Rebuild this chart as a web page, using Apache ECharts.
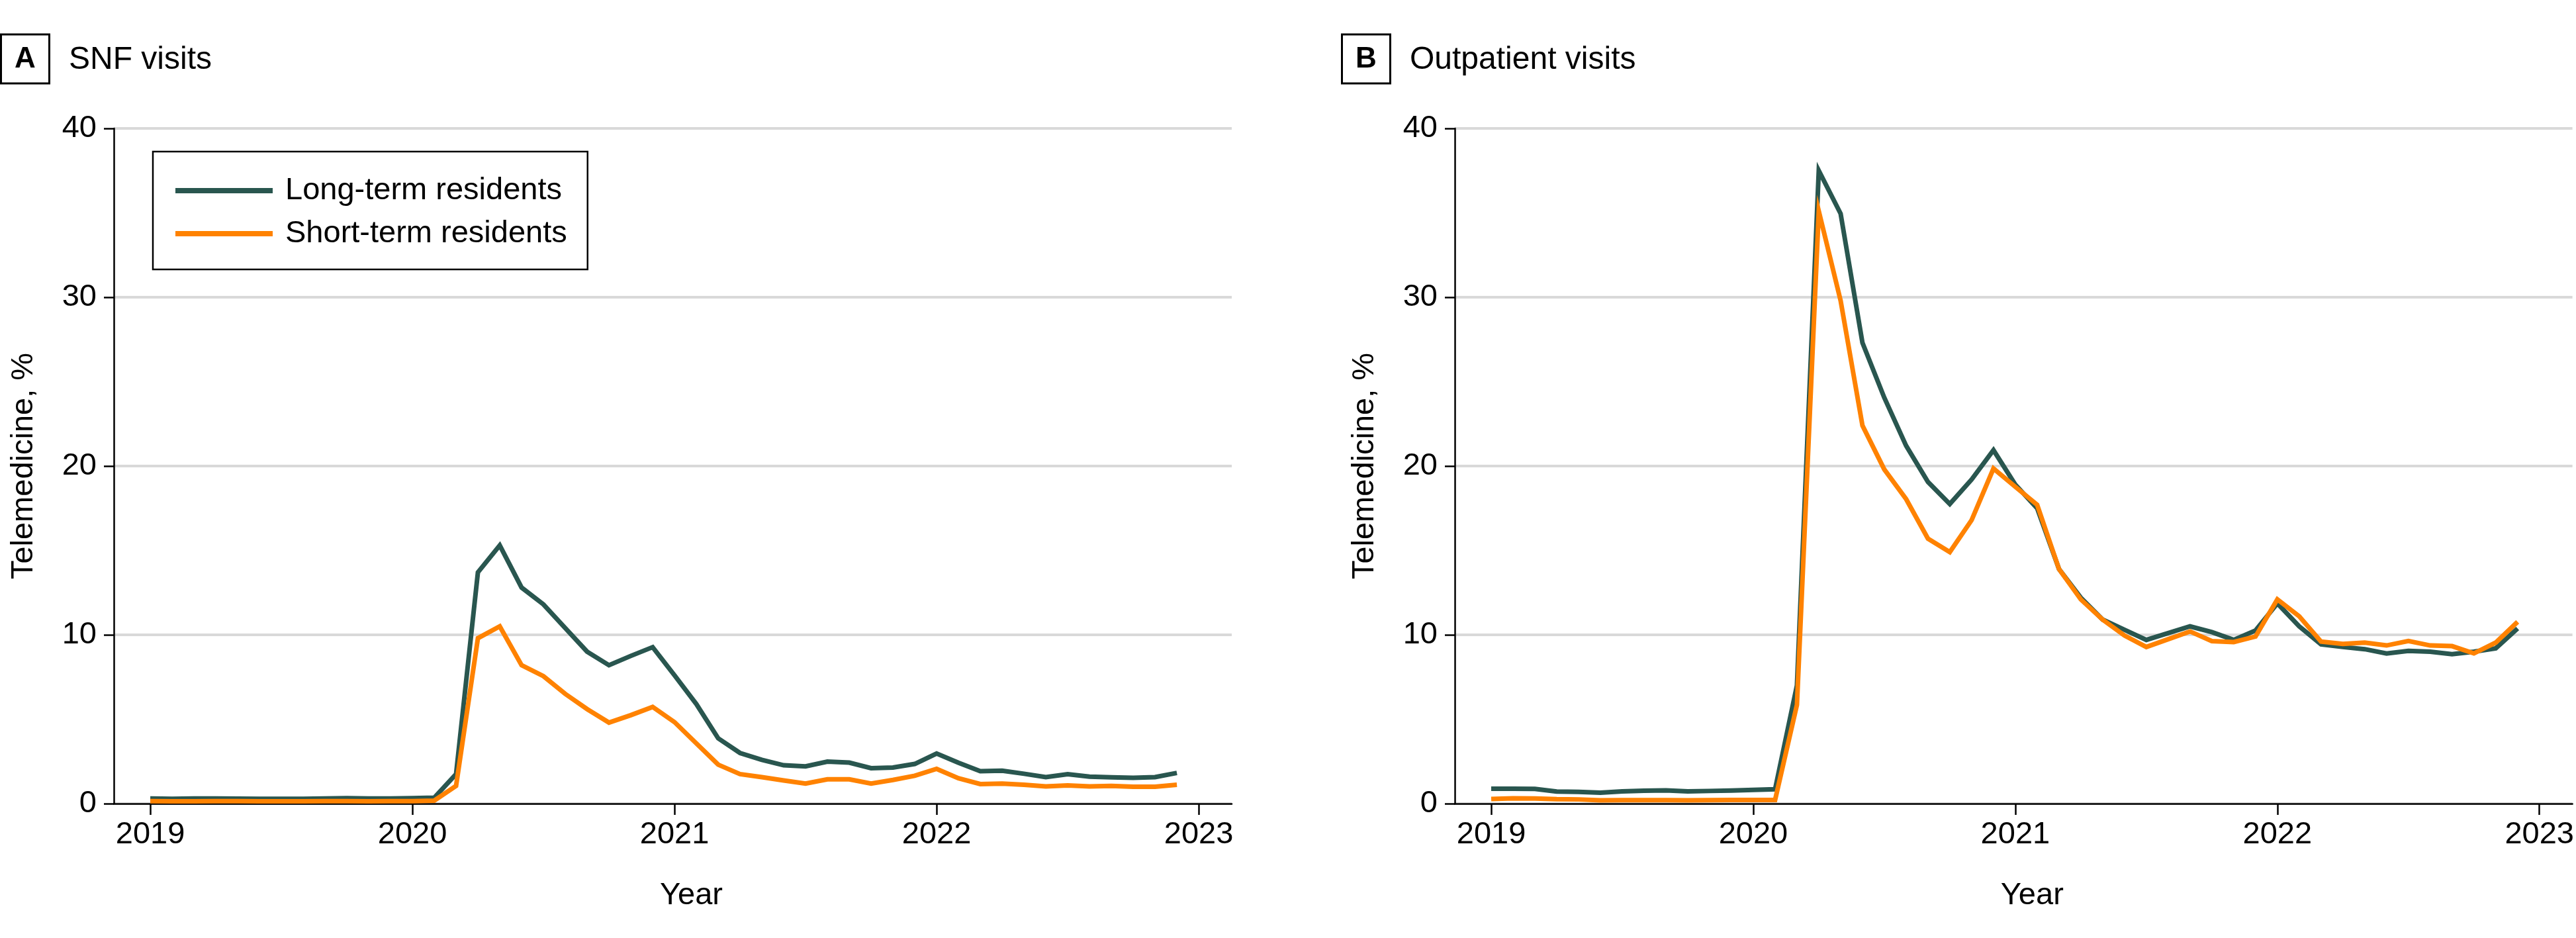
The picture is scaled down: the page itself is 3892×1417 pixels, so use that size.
<!DOCTYPE html>
<html>
<head>
<meta charset="utf-8">
<script src="https://cdn.jsdelivr.net/npm/echarts@6/dist/echarts.min.js"></script>
<style>
html,body{margin:0;padding:0;background:#fff;}
#c{width:3892px;height:1417px;}
</style>
</head>
<body>
<div id="c"></div>
<script>
// ---- data (monthly, Jan 2019 – Dec 2022) ----
const months = [
  '2019-01','2019-02','2019-03','2019-04','2019-05','2019-06','2019-07','2019-08','2019-09','2019-10','2019-11','2019-12',
  '2020-01','2020-02','2020-03','2020-04','2020-05','2020-06','2020-07','2020-08','2020-09','2020-10','2020-11','2020-12',
  '2021-01','2021-02','2021-03','2021-04','2021-05','2021-06','2021-07','2021-08','2021-09','2021-10','2021-11','2021-12',
  '2022-01','2022-02','2022-03','2022-04','2022-05','2022-06','2022-07','2022-08','2022-09','2022-10','2022-11','2022-12'
];
const yearTicks = [2019, 2020, 2021, 2022, 2023];
const yTicks = [0, 10, 20, 30, 40];
const seriesNames = ['Long-term residents', 'Short-term residents'];
const panelTitles = ['SNF visits', 'Outpatient visits'];
const panelLetters = ['A', 'B'];

// Panel A: SNF visits
const snfLong = [
  0.30,0.28,0.30,0.30,0.29,0.28,0.28,0.28,0.30,0.32,0.30,0.30,
  0.32,0.35,1.75,13.7,15.3,12.8,11.8,10.4,9.0,8.2,8.75,9.27,
  7.6,5.9,3.87,3.0,2.59,2.27,2.21,2.49,2.43,2.1,2.14,2.35,
  2.97,2.42,1.92,1.95,1.77,1.57,1.74,1.6,1.56,1.53,1.57,1.82
];
const snfShort = [
  0.15,0.14,0.14,0.15,0.15,0.14,0.14,0.14,0.15,0.15,0.14,0.15,
  0.15,0.18,1.05,9.8,10.5,8.2,7.55,6.5,5.6,4.8,5.24,5.73,
  4.83,3.57,2.31,1.75,1.57,1.37,1.19,1.44,1.44,1.19,1.4,1.65,
  2.06,1.5,1.16,1.19,1.12,1.02,1.08,1.02,1.05,1.0,1.0,1.12
];
// Panel B: Outpatient visits
const opLong = [
  0.88,0.88,0.87,0.72,0.70,0.65,0.73,0.76,0.78,0.73,0.75,0.77,
  0.81,0.85,7.0,37.5,34.95,27.3,24.05,21.2,19.06,17.75,19.2,20.94,
  18.9,17.5,13.9,12.2,10.9,10.3,9.7,10.1,10.5,10.16,9.7,10.26,
  11.86,10.5,9.44,9.28,9.15,8.89,9.05,9.0,8.85,9.0,9.2,10.38
];
const opShort = [
  0.27,0.31,0.30,0.26,0.25,0.20,0.21,0.21,0.21,0.20,0.21,0.22,
  0.22,0.22,5.85,35.1,29.8,22.4,19.8,18.04,15.7,14.9,16.8,19.85,
  18.77,17.7,13.9,12.1,10.9,9.96,9.28,9.74,10.2,9.63,9.57,9.9,
  12.1,11.1,9.6,9.46,9.54,9.37,9.63,9.37,9.33,8.9,9.54,10.77
];

// ---- build ----
const FONT = 'Liberation Sans';
const DARK = '#29564f';
const ORANGE = '#ff8200';
const xOf = s => { const p = s.split('-'); return +p[0] + (+p[1] - 1) / 12; };
const pairs = vals => vals.map((v, i) => [xOf(months[i]), v]);

const panelLeft = [172, 2198];
const gridW = 1689, gridTop = 194, gridH = 1020;

const grids = panelLeft.map(l => ({ left: l, top: gridTop, width: gridW, height: gridH }));

const xAxes = [0, 1].map(i => ({
  type: 'value', gridIndex: i, min: 2018.861, max: 2023.126,
  axisLine: { show: true, onZero: false, lineStyle: { color: '#000', width: 2.5 } },
  axisTick: { show: true, length: 17, customValues: yearTicks, lineStyle: { color: '#000', width: 2.5 } },
  axisLabel: { customValues: yearTicks, fontSize: 47, fontFamily: FONT, color: '#000', margin: 24, formatter: v => String(v) },
  splitLine: { show: false },
  name: 'Year', nameLocation: 'middle', nameGap: 116,
  nameTextStyle: { fontSize: 47, fontFamily: FONT, color: '#000', padding: [0, 0, 0, 56] }
}));

const yAxes = [0, 1].map(i => ({
  type: 'value', gridIndex: i, min: yTicks[0], max: yTicks[yTicks.length - 1], interval: 10,
  axisLine: { show: true, lineStyle: { color: '#000', width: 2.5 } },
  axisTick: { show: true, length: 15, lineStyle: { color: '#000', width: 2.5 } },
  axisLabel: { fontSize: 47, fontFamily: FONT, color: '#000', margin: 26 },
  splitLine: { show: true, lineStyle: { color: '#d9d9d9', width: 4 } },
  name: 'Telemedicine, %', nameLocation: 'middle', nameGap: 112,
  nameTextStyle: { fontSize: 47, fontFamily: FONT, color: '#000' }
}));

const mk = (name, vals, idx, color, z) => ({
  type: 'line', name, xAxisIndex: idx, yAxisIndex: idx, data: pairs(vals),
  symbol: 'none', showSymbol: false, z,
  lineStyle: { color, width: 7, join: 'miter' }, itemStyle: { color },
  emphasis: { disabled: true }
});

const series = [
  mk(seriesNames[0], snfLong, 0, DARK, 2),
  mk(seriesNames[1], snfShort, 0, ORANGE, 3),
  mk(seriesNames[0], opLong, 1, DARK, 2),
  mk(seriesNames[1], opShort, 1, ORANGE, 3)
];

const graphic = [];
[0, 1].forEach(i => {
  const off = i * 2026;
  graphic.push({
    type: 'rect', x: off + 1.5, y: 52,
    shape: { x: 0, y: 0, width: 73, height: 74 },
    style: { fill: '#fff', stroke: '#000', lineWidth: 3 }
  });
  graphic.push({
    type: 'text', x: off + 38, y: 90,
    style: { text: panelLetters[i], fill: '#000', fontSize: 44, fontWeight: 'bold', fontFamily: FONT, align: 'center', verticalAlign: 'middle' }
  });
  graphic.push({
    type: 'text', x: off + 104, y: 91,
    style: { text: panelTitles[i], fill: '#000', fontSize: 48, fontFamily: FONT, align: 'left', verticalAlign: 'middle' }
  });
});

const chart = echarts.init(document.getElementById('c'), null, { renderer: 'canvas' });
chart.setOption({
  animation: false,
  backgroundColor: '#fff',
  grid: grids,
  xAxis: xAxes,
  yAxis: yAxes,
  legend: {
    data: seriesNames, orient: 'vertical', left: 231, top: 229,
    padding: [31, 31, 26, 34], borderColor: '#000', borderWidth: 2.5, backgroundColor: '#fff',
    itemWidth: 147, itemHeight: 8, itemGap: 9, icon: 'rect', selectedMode: false,
    textStyle: { fontSize: 47, fontFamily: FONT, color: '#000', lineHeight: 56, padding: [0, 0, 0, 14] }
  },
  graphic,
  series
});
</script>
</body>
</html>
